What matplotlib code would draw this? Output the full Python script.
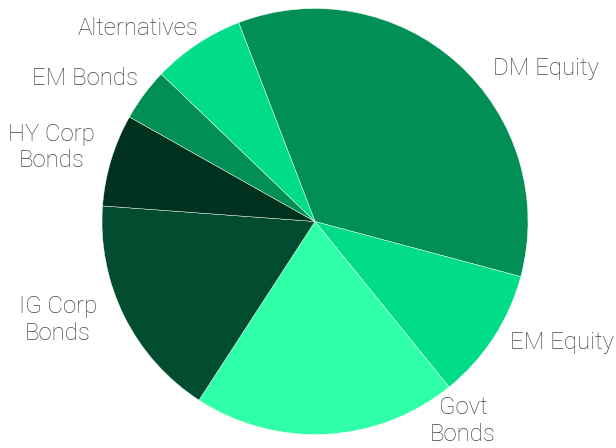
#!/usr/bin/env python3
"""
Portfolio allocation pie chart
"""

import matplotlib

matplotlib.use("Agg")
import matplotlib.pyplot as plt

# allocation, in percent, clockwise from the top
assets = [
    "DM Equity",
    "EM Equity",
    "Govt\nBonds",
    "IG Corp\nBonds",
    "HY Corp\nBonds",
    "EM Bonds",
    "Alternatives",
]
weights = [35, 10, 20, 17, 7, 4, 7]

colors = ["#028f55", "#00dc88", "#2effa8", "#024d2f", "#01321f", "#028f55", "#00dc88"]

# label anchor points in pie units (radius = 1) and alignment
label_xy = [
    (0.836, 0.718),
    (0.916, -0.570),
    (0.695, -0.937),
    (-1.207, -0.462),
    (-1.239, 0.348),
    (-1.082, 0.671),
    (-0.831, 0.906),
]
label_ha = ["left", "left", "center", "center", "center", "center", "center"]


def main():
    plt.rcParams["font.family"] = ["Roboto", "DejaVu Sans"]

    fig = plt.figure(figsize=(6.16, 4.48), dpi=100)
    ax = fig.add_axes([102 / 616, 13.5 / 448, 426 / 616, 426 / 448])

    ax.pie(
        weights,
        colors=colors,
        startangle=111,
        counterclock=False,
        radius=1.0,
        wedgeprops=dict(edgecolor="white", linewidth=0.3),
    )
    ax.set_xlim(-1, 1)
    ax.set_ylim(-1, 1)
    ax.set_aspect("equal")
    ax.axis("off")

    for name, (x, y), ha in zip(assets, label_xy, label_ha):
        ax.text(
            x,
            y,
            name,
            ha=ha,
            va="center",
            fontsize=17.3,
            fontweight="light",
            color="#444444",
            linespacing=1.2,
            clip_on=False,
        )

    fig.savefig("out.png", dpi=100)


if __name__ == "__main__":
    main()
